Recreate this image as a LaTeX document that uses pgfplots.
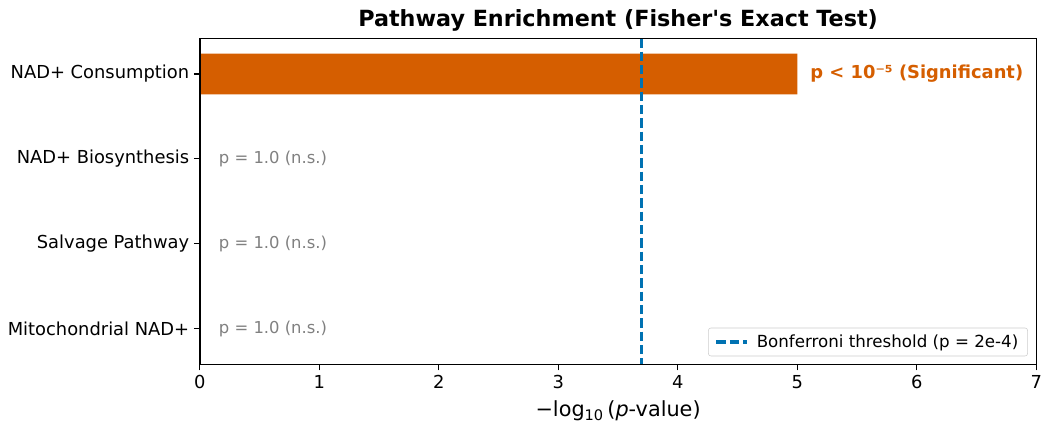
\documentclass[border=0pt]{standalone}
\usepackage{fontspec}
\setmainfont{DejaVu Sans}
\newfontfamily\plainfont{DejaVu Sans}
\usepackage{pgfplots}
\pgfplotsset{compat=1.18}
\definecolor{sigorange}{HTML}{D55E00}
\definecolor{thrblue}{HTML}{0072B2}
\definecolor{nsgray}{HTML}{808080}
\begin{document}
\begin{tikzpicture}
\begin{axis}[
  scale only axis,
  width=627pt, height=244.5pt,
  xmin=0, xmax=7,
  ymin=-0.42, ymax=3.42,
  y dir=reverse,
  xtick={0,1,2,3,4,5,6,7},
  ytick={0,1,2,3},
  yticklabels={NAD+ Consumption, NAD+ Biosynthesis, Salvage Pathway, Mitochondrial NAD+},
  tick align=outside,
  xtick pos=left, ytick pos=left,
  major tick length=4.5pt,
  tick style={black, line width=0.9pt},
  axis line style={black, line width=1pt},
  /pgf/number format/assume math mode=true,
  ticklabel style={font=\fontsize{13.4}{15}\selectfont},
  xticklabel style={inner xsep=0pt},
  xlabel={−log\textsubscript{10}\,(\textit{p}-value)},
  xlabel style={font=\fontsize{15.6}{17}\selectfont, inner ysep=1.5pt, yshift=-4pt},
  title={\plainfont\bfseries Pathway Enrichment (Fisher's Exact Test)},
  title style={font=\fontsize{16.7}{19}\selectfont, yshift=-4pt},
  legend style={at={(0.99,0.025)}, anchor=south east, font=\fontsize{12.5}{14}\selectfont, draw=black!20, rounded corners=2pt, inner xsep=5pt, inner ysep=3pt},
  legend cell align=left,
  legend image code/.code={\draw[#1] (0cm,0cm) -- (0.8cm,0cm); \path (0.95cm,0cm);},
  clip=false,
  after end axis/.code={\draw[black, line width=1pt] (rel axis cs:0,0) -- (rel axis cs:1,0) -- (rel axis cs:1,1) -- (rel axis cs:0,1) -- cycle;},
]
\addplot[xbar, bar width=0.48, fill=sigorange, draw=none, forget plot] coordinates {(5,0) (0,1) (0,2) (0,3)};
\addplot[draw=thrblue, line width=2.3pt, dash pattern=on 7pt off 3pt] coordinates {(3.699,-0.42) (3.699,3.42)};
\addlegendentry{Bonferroni threshold (p = 2e-4)}
\node[anchor=west, text=sigorange, font=\fontsize{13.4}{15}\selectfont\bfseries] at (axis cs:5.07,0) {p < 10⁻⁵ (Significant)};
\node[anchor=west, text=nsgray, font=\fontsize{12.3}{14}\selectfont] at (axis cs:0.12,1) {p = 1.0 (n.s.)};
\node[anchor=west, text=nsgray, font=\fontsize{12.3}{14}\selectfont] at (axis cs:0.12,2) {p = 1.0 (n.s.)};
\node[anchor=west, text=nsgray, font=\fontsize{12.3}{14}\selectfont] at (axis cs:0.12,3) {p = 1.0 (n.s.)};
\end{axis}
\path ([yshift=3.5pt]current bounding box.north);
\path ([xshift=-2.5pt]current bounding box.west);
\end{tikzpicture}
\end{document}
